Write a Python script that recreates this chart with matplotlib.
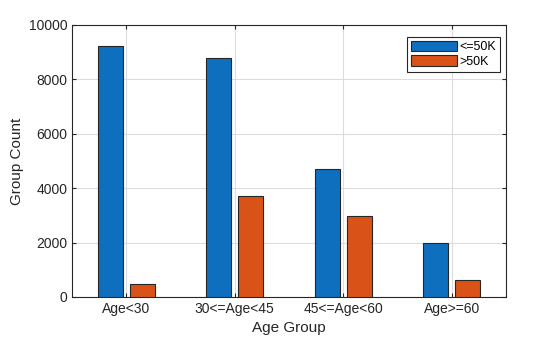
import matplotlib.pyplot as plt
import numpy as np

plt.rcParams['font.family'] = ['Liberation Sans', 'DejaVu Sans']

groups = ['Age<30', '30<=Age<45', '45<=Age<60', 'Age>=60']
low_income = [9210, 8800, 4720, 2000]
high_income = [490, 3700, 2990, 640]

x = np.arange(1, len(groups) + 1)
width = 0.23

fig = plt.figure(figsize=(5.6, 3.37), dpi=100)
ax = fig.add_axes([72/560, 1 - 297/337, 434/560, 272/337])

ax.bar(x - 0.147, low_income, width, label='<=50K', color='#0F6FBF',
       edgecolor='#262626', linewidth=0.8, zorder=3)
ax.bar(x + 0.147, high_income, width, label='>50K', color='#D95319',
       edgecolor='#262626', linewidth=0.8, zorder=3)

ax.set_xlim(0.5, 4.5)
ax.set_ylim(0, 10000)
ax.set_xticks(x)
ax.set_xticklabels(groups)
ax.set_yticks(np.arange(0, 10001, 2000))
ax.grid(True, color='#dcdcdc', linewidth=0.8, zorder=0)
ax.tick_params(direction='in', top=True, right=True, labelsize=10,
               length=3, color='#262626', labelcolor='#262626')
for s in ax.spines.values():
    s.set_color('#262626')
    s.set_linewidth(0.8)

ax.set_xlabel('Age Group', fontsize=11, color='#262626', labelpad=4)
ax.set_ylabel('Group Count', fontsize=11, color='#262626', labelpad=3)

leg = ax.legend(loc='upper right', bbox_to_anchor=(0.986, 0.955), fontsize=9,
                fancybox=False, edgecolor='#262626', framealpha=1,
                handlelength=3.7, handleheight=0.9, borderpad=0.3,
                labelspacing=0.15, handletextpad=0.2, borderaxespad=0)
leg.get_frame().set_linewidth(0.8)

fig.savefig('out.png', dpi=100)
